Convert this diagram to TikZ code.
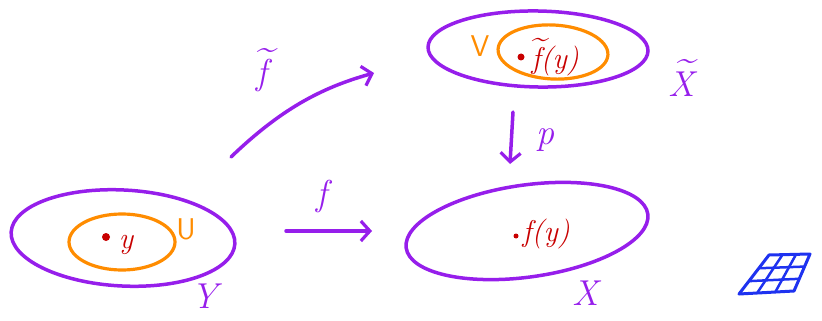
\documentclass[tikz,border=0pt]{standalone}
\usepackage{fontspec}
\usetikzlibrary{shapes.geometric,arrows.meta,calc}
\definecolor{pur}{RGB}{150,30,235}
\definecolor{org}{RGB}{255,140,0}
\definecolor{rd}{RGB}{200,0,0}
\definecolor{blu}{RGB}{30,50,240}
\newcommand{\tld}[1]{\leavevmode\setbox0\hbox{#1}\hbox to\wd0{\hss\kern0.18em\raisebox{0.7em}{\~{}}\hss}\kern-\wd0\box0}
\begin{document}
\begin{tikzpicture}[x=1pt,y=-1pt,
  set/.style={ellipse,draw=pur,line width=3.5pt,inner sep=0pt},
  sub/.style={ellipse,draw=org,line width=3.2pt,inner sep=0pt},
  arr/.style={draw=pur,line width=3.5pt,line cap=round,-{Straight Barb[length=9pt,width=20pt,line width=3.2pt]}},
  lab/.style={text=pur,font=\fontsize{36}{38}\selectfont\itshape},
  olab/.style={text=org,font=\fontsize{30}{32}\selectfont\sffamily},
  rlab/.style={text=rd,font=\fontsize{30}{32}\selectfont\itshape},
  dot/.style={circle,fill=rd,inner sep=0pt,minimum size=7pt}]
\useasboundingbox (0,0) rectangle (822,321);
% Y
\node[set,minimum width=224pt,minimum height=96pt,rotate=-3] (Y) at (123,238) {};
\node[sub,minimum width=106pt,minimum height=56pt] (U) at (122,242) {};
\node[dot,minimum size=8pt] (y) at (106,237) {};
\node[rlab] (ylab) at (126,245) {y};
\node[olab] (Ulab) at (186,229) {U};
\node[lab] (Ylab) at (205,296) {Y};
% X
\node[set,minimum width=244pt,minimum height=92pt,rotate=8] (X) at (527,231) {};
\node[dot,minimum size=5pt] (fy) at (516,236) {};
\node[rlab,anchor=west] (fylab) at (519,234) {f(y)};
\node[lab] (Xlab) at (586,293) {X};
% Xtilde
\node[set,minimum width=220pt,minimum height=76pt,rotate=-1] (Xt) at (538,49) {};
\node[sub,minimum width=110pt,minimum height=54pt,rotate=-3] (V) at (553,52) {};
\node[olab] (Vlab) at (480,46) {V};
\node[dot] (fty) at (521,57) {};
\node[rlab,anchor=west] (ftylab) at (528,57) {\tld{f}(y)};
\node[lab] (Xtlab) at (682,78) {\tld{X}};
% arrows
\coordinate (fs) at (286,231);
\coordinate (fe) at (372,231);
\draw[arr] (fs) -- (fe);
\node[lab] (flab) at (322,196) {f};
\coordinate (ps) at (513,112);
\coordinate (pe) at (510,164);
\draw[arr] (ps) -- (pe);
\node[lab] (plab) at (545,140) {p};
\coordinate (ts) at (231,157);
\coordinate (te) at (374,73);
\draw[arr] (ts) .. controls (280,110) and (320,88) .. (te);
\node[lab] (tlab) at (262,70) {\tld{f}};
% grid
\coordinate (g1) at (739,294);
\coordinate (g2) at (794,291);
\coordinate (g3) at (810,254);
\coordinate (g4) at (769,255);
\draw[blu,line width=3pt,line join=round] (g1) -- (g2) -- (g3) -- (g4) -- cycle;
\foreach \t in {0.33,0.66}{
  \draw[blu,line width=2.5pt] ($(g1)!\t!(g4)$) -- ($(g2)!\t!(g3)$);
  \draw[blu,line width=2.5pt] ($(g1)!\t!(g2)$) -- ($(g4)!\t!(g3)$);
}
\end{tikzpicture}
\end{document}
